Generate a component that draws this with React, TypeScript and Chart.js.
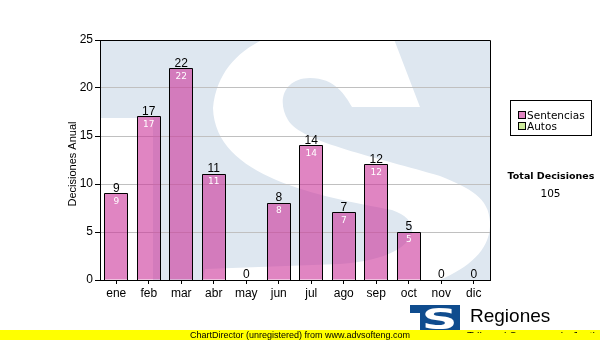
import React, { useEffect, useRef } from 'react';
import { Chart, registerables } from 'chart.js';

Chart.register(...registerables);

// ---- data ----
const months = ['ene', 'feb', 'mar', 'abr', 'may', 'jun', 'jul', 'ago', 'sep', 'oct', 'nov', 'dic'];
const sentencias = [9, 17, 22, 11, 0, 8, 14, 7, 12, 5, 0, 0];
const autos = [0, 0, 0, 0, 0, 0, 0, 0, 0, 0, 0, 0];
const seriesNames = ['Sentencias', 'Autos'];
const yMin = 0;
const yMax = 25;
const yStep = 5;
const yTitle = 'Decisiones Anual';
const totalLabel = 'Total Decisiones';
const footerText = 'ChartDirector (unregistered) from www.advsofteng.com';
const logoTitle = 'Regiones';
const logoSubtitle = 'Tribunal Supremo de Justicia';

// ---- styles ----
const BAR_FILL = 'rgba(204,51,153,0.6)';
const SWATCH_COLORS = ['rgb(224,133,194)', 'rgb(206,236,156)'];
const WATERMARK_BLUE = '#DEE7F0';
const LOGO_BLUE = '#0F4C8E';
const ARIAL = '"Liberation Sans", Arial, sans-serif';
const VERDANA = '"DejaVu Sans", Verdana, sans-serif';

function fitGlyph(ctx: CanvasRenderingContext2D, ch: string, font: string, x0: number, y0: number, x1: number, y1: number) {
  ctx.save();
  ctx.font = font;
  ctx.textAlign = 'left';
  ctx.textBaseline = 'alphabetic';
  const m = ctx.measureText(ch);
  const gw = m.actualBoundingBoxLeft + m.actualBoundingBoxRight;
  const gh = m.actualBoundingBoxAscent + m.actualBoundingBoxDescent;
  ctx.translate(x0, y0);
  ctx.scale((x1 - x0) / gw, (y1 - y0) / gh);
  ctx.fillText(ch, m.actualBoundingBoxLeft, m.actualBoundingBoxAscent);
  ctx.restore();
}

// decorative watermark "S" outline, offsets relative to chart area top-left
function drawWatermarkS(ctx: CanvasRenderingContext2D, L: number, T: number) {
  const p = (x: number, y: number): [number, number] => [L + x - 100, T + y - 40];
  ctx.beginPath();
  ctx.moveTo(...p(420, 107));
  ctx.lineTo(...p(392, 34));
  ctx.bezierCurveTo(...p(360, 16), ...p(222, 14), ...p(213, 108));
  ctx.bezierCurveTo(...p(215, 178), ...p(320, 196), ...p(392, 210));
  ctx.bezierCurveTo(...p(432, 224), ...p(412, 260), ...p(340, 264));
  ctx.lineTo(...p(205, 269));
  ctx.lineTo(...p(200, 300));
  ctx.bezierCurveTo(...p(300, 315), ...p(494, 300), ...p(490, 222));
  ctx.bezierCurveTo(...p(489, 198), ...p(470, 188), ...p(440, 176));
  ctx.bezierCurveTo(...p(380, 158), ...p(300, 142), ...p(288, 120));
  ctx.bezierCurveTo(...p(276, 100), ...p(285, 78), ...p(310, 78));
  ctx.bezierCurveTo(...p(335, 78), ...p(345, 95), ...p(352, 107));
  ctx.closePath();
  ctx.fill();
}

const backgroundPlugin = {
  id: 'watermark',
  beforeDraw(chart: any) {
    const { ctx, chartArea } = chart;
    const { left, top, right, bottom } = chartArea;
    ctx.save();
    ctx.beginPath();
    ctx.rect(left, top, right - left, bottom - top);
    ctx.clip();
    ctx.fillStyle = WATERMARK_BLUE;
    ctx.fillRect(left, top, right - left, 78);
    ctx.fillRect(left + 53, top + 78, right - left - 53, bottom - top - 78);
    ctx.fillStyle = '#FFFFFF';
    drawWatermarkS(ctx, left, top);
    ctx.restore();
  },
};

const overlayPlugin = {
  id: 'overlay',
  afterDatasetsDraw(chart: any) {
    const { ctx } = chart;
    const meta = chart.getDatasetMeta(0);
    ctx.save();
    // crisp bar outlines
    ctx.strokeStyle = '#000000';
    ctx.lineWidth = 1;
    meta.data.forEach((bar: any, i: number) => {
      if (sentencias[i] <= 0) return;
      const xl = Math.floor(bar.x - bar.width / 2);
      const xr = Math.ceil(bar.x + bar.width / 2) - 1;
      const yt = Math.floor(bar.y);
      const yb = Math.round(bar.base);
      ctx.beginPath();
      ctx.moveTo(xl + 0.5, yb);
      ctx.lineTo(xl + 0.5, yt + 0.5);
      ctx.lineTo(xr + 0.5, yt + 0.5);
      ctx.lineTo(xr + 0.5, yb);
      ctx.stroke();
    });
    ctx.textAlign = 'center';
    ctx.textBaseline = 'alphabetic';
    meta.data.forEach((bar: any, i: number) => {
      const v = sentencias[i];
      ctx.font = `12px ${ARIAL}`;
      ctx.fillStyle = '#000000';
      ctx.fillText(String(v), bar.x, bar.y - 2);
      if (v > 0) {
        ctx.font = `9px ${VERDANA}`;
        ctx.fillStyle = '#FFFFFF';
        ctx.fillText(String(v), bar.x, bar.y + 10);
      }
    });
    ctx.restore();
  },
  afterDraw(chart: any) {
    const { ctx, chartArea } = chart;
    const { left, top, right, bottom } = chartArea;
    ctx.save();
    ctx.strokeStyle = '#000000';
    ctx.lineWidth = 1;
    ctx.beginPath();
    ctx.moveTo(left, top + 0.5);
    ctx.lineTo(right + 0.5, top + 0.5);
    ctx.lineTo(right + 0.5, bottom);
    ctx.stroke();
    ctx.translate(73, (top + bottom) / 2 + 4);
    ctx.rotate(-Math.PI / 2);
    ctx.font = `11px ${ARIAL}`;
    ctx.fillStyle = '#000000';
    ctx.textAlign = 'center';
    ctx.textBaseline = 'middle';
    ctx.fillText(yTitle, 0, 0);
    ctx.restore();

    // logo
    ctx.save();
    ctx.fillStyle = LOGO_BLUE;
    ctx.fillRect(410, 305, 50, 8);
    ctx.fillRect(420, 313, 40, 20);
    ctx.fillStyle = '#FFFFFF';
    fitGlyph(ctx, 'S', `bold 60px ${VERDANA}`, 425, 307, 454, 329);
    ctx.restore();
  },
};

export default function App() {
  const canvasRef = useRef<HTMLCanvasElement | null>(null);

  useEffect(() => {
    const canvas = canvasRef.current;
    if (!canvas) return;
    const chart = new Chart(canvas, {
      type: 'bar',
      data: {
        labels: months,
        datasets: [
          {
            label: seriesNames[0],
            data: sentencias,
            backgroundColor: BAR_FILL,
            borderWidth: 0,
            categoryPercentage: 0.71,
            barPercentage: 1,
          },
          {
            label: seriesNames[1],
            data: autos,
            backgroundColor: SWATCH_COLORS[1],
            borderWidth: 0,
            categoryPercentage: 0.71,
            barPercentage: 1,
          },
        ],
      },
      options: {
        responsive: false,
        animation: false,
        events: [],
        layout: { padding: { left: 0, right: 110, top: 40, bottom: 0 } },
        plugins: {
          legend: { display: false },
          tooltip: { enabled: false },
        },
        scales: {
          x: {
            stacked: true,
            grid: {
              display: true,
              drawOnChartArea: false,
              offset: false,
              tickLength: 4,
              tickColor: '#000000',
            },
            border: { display: true, color: '#000000', width: 1 },
            ticks: {
              color: '#000000',
              font: { family: ARIAL, size: 12 },
              padding: 2,
              autoSkip: false,
              maxRotation: 0,
            },
            afterFit(scale: any) {
              scale.height = 60;
            },
          },
          y: {
            stacked: true,
            min: yMin,
            max: yMax,
            grid: {
              color: '#C0C0C0',
              lineWidth: 1,
              tickLength: 5,
              tickColor: '#000000',
            },
            border: { display: true, color: '#000000', width: 1 },
            ticks: {
              stepSize: yStep,
              color: '#000000',
              font: { family: ARIAL, size: 12 },
              padding: 2,
            },
            afterFit(scale: any) {
              scale.width = 100;
            },
          },
        },
      },
      plugins: [backgroundPlugin, overlayPlugin],
    } as any);
    return () => chart.destroy();
  }, []);

  const total = sentencias.reduce((a, b) => a + b, 0) + autos.reduce((a, b) => a + b, 0);

  const abs = (o: React.CSSProperties): React.CSSProperties => ({ position: 'absolute', whiteSpace: 'nowrap', margin: 0, ...o });

  return (
    <div style={{ position: 'fixed', left: 0, top: 0, width: 600, height: 340, background: '#FFFFFF', overflow: 'hidden' }}>
      <canvas ref={canvasRef} width={600} height={340} style={{ position: 'absolute', left: 0, top: 0, width: 600, height: 340 }} />
      <div style={abs({ left: 510, top: 100, width: 80, height: 34, border: '1px solid #000', background: '#FFFFFF' })} />
      {seriesNames.map((name, i) => (
        <React.Fragment key={name}>
          <div style={abs({ left: 518, top: 111 + i * 11, width: 6, height: 6, border: '1px solid #000', background: SWATCH_COLORS[i] })} />
          <div style={abs({ left: 527, top: 110 + i * 11, fontFamily: VERDANA, fontSize: 10.5, lineHeight: '10.5px', color: '#000' })}>{name}</div>
        </React.Fragment>
      ))}
      <div style={abs({ left: 500, width: 102, top: 170.5, textAlign: 'center', fontFamily: VERDANA, fontWeight: 'bold', fontSize: 9.5, lineHeight: '9.5px', color: '#000' })}>{totalLabel}</div>
      <div style={abs({ left: 500, width: 101, top: 188, textAlign: 'center', fontFamily: VERDANA, fontSize: 10.5, lineHeight: '10.5px', color: '#000' })}>{total}</div>
      <div style={abs({ left: 0, top: 330, width: 600, height: 10, background: '#FFFF00' })} />
      <div style={abs({ left: 190, top: 330.6, fontFamily: ARIAL, fontSize: 9, lineHeight: '9px', color: '#000' })}>{footerText}</div>
      <div style={abs({ left: 470, top: 305.6, fontFamily: ARIAL, fontSize: 19, lineHeight: '19px', color: '#000' })}>{logoTitle}</div>
      <div style={abs({ left: 460, top: 300, width: 140, height: 33, overflow: 'hidden' })}>
        <div style={abs({ left: 7, top: 30.5, fontFamily: ARIAL, fontSize: 11, lineHeight: '11px', color: '#000' })}>{logoSubtitle}</div>
      </div>
    </div>
  );
}
